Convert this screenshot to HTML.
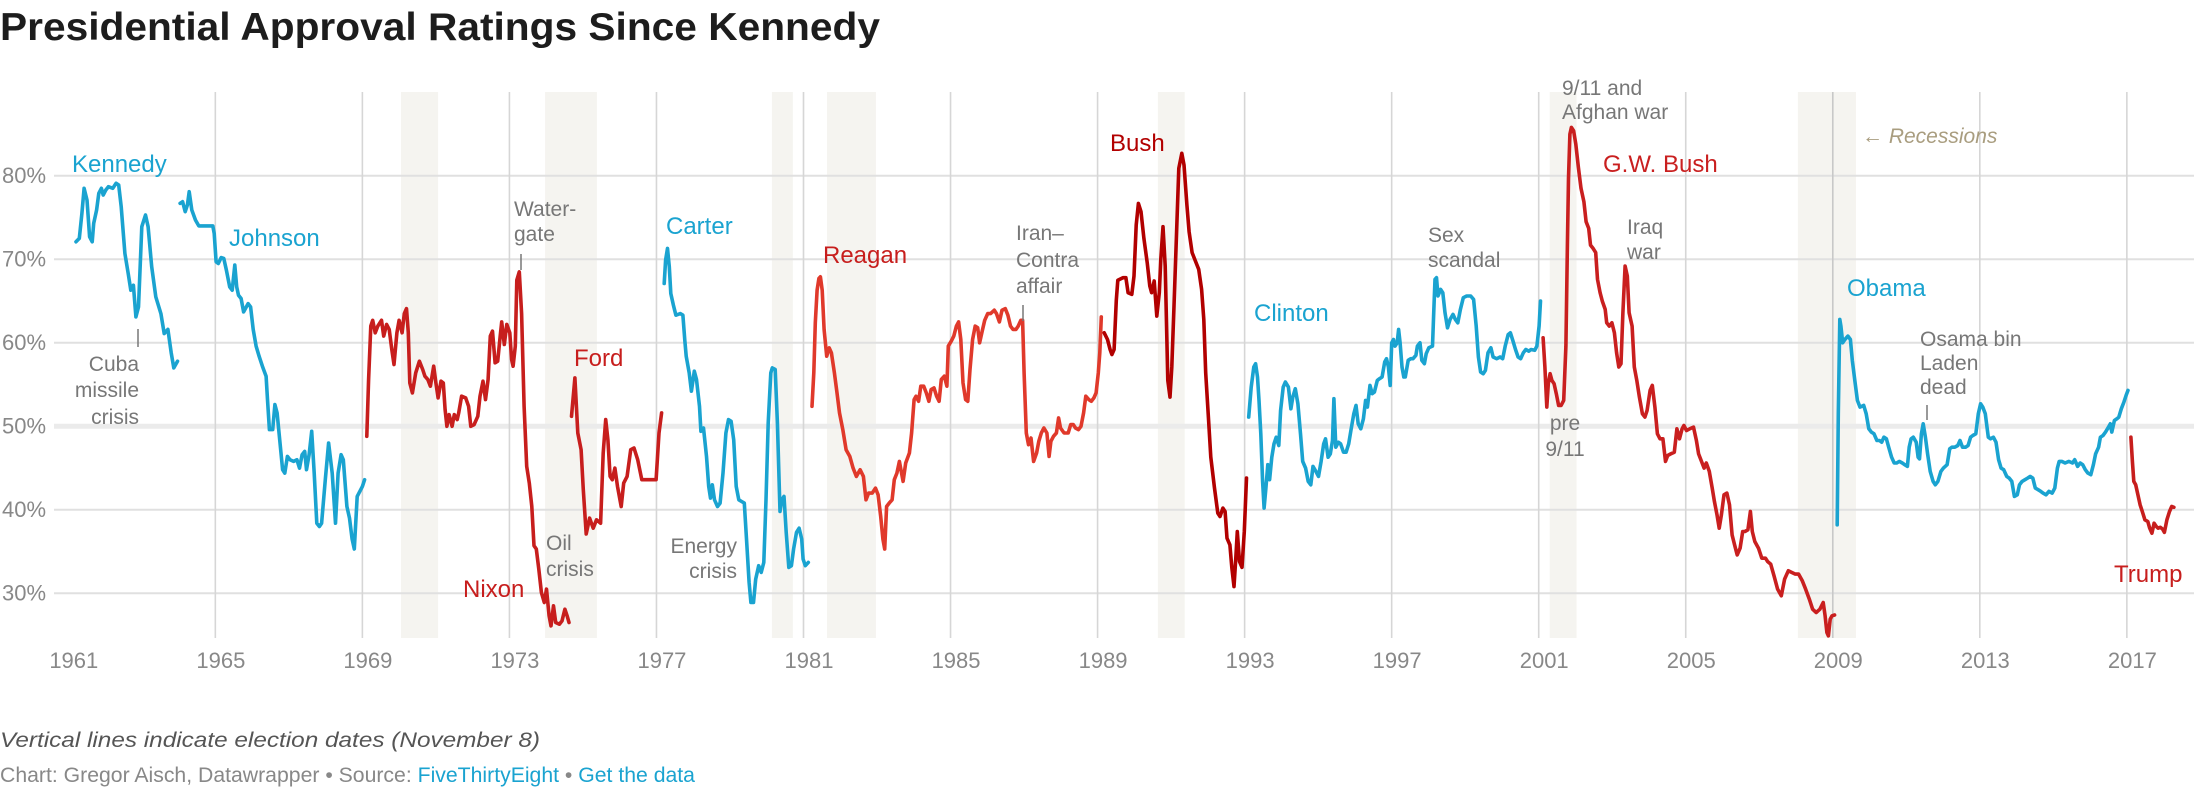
<!DOCTYPE html>
<html><head><meta charset="utf-8"><style>
html,body{margin:0;padding:0;background:#fff;width:2200px;height:800px;overflow:hidden;}
svg{display:block;font-family:"Liberation Sans",sans-serif;}
</style></head><body>
<svg id="chart" width="2200" height="800" viewBox="0 0 2200 800" xmlns="http://www.w3.org/2000/svg">
<text x="0" y="40" font-size="39" font-weight="bold" fill="#1d1d1d" textLength="880" lengthAdjust="spacingAndGlyphs">Presidential Approval Ratings Since Kennedy</text>
<g id="bands"></g>
<g id="grid"></g>
<g id="lines"></g>
<g id="labels" font-size="21" fill="#777">
<text x="72" y="172" font-size="24" fill="#1aa3d0">Kennedy</text>
<text x="229" y="246" font-size="24" fill="#1aa3d0">Johnson</text>
<text x="666" y="234" font-size="24" fill="#1aa3d0">Carter</text>
<text x="1254" y="321" font-size="24" fill="#1aa3d0">Clinton</text>
<text x="1847" y="296" font-size="24" fill="#1aa3d0">Obama</text>
<text x="463" y="597" font-size="24" fill="#c71e1d">Nixon</text>
<text x="574" y="366" font-size="24" fill="#c71e1d">Ford</text>
<text x="823" y="263" font-size="24" fill="#c71e1d">Reagan</text>
<text x="1110" y="151" font-size="24" fill="#b20000">Bush</text>
<text x="1603" y="172" font-size="24" fill="#c91f1f">G.W. Bush</text>
<text x="2114" y="582" font-size="24" fill="#c71e1d">Trump</text>
<text x="514" y="216">Water-<tspan x="514" y="241">gate</tspan></text>
<line x1="521" y1="254" x2="521" y2="270" stroke="#777" stroke-width="1.5"/>
<text text-anchor="end" x="139" y="371">Cuba<tspan x="139" y="397">missile</tspan><tspan x="139" y="424">crisis</tspan></text>
<line x1="138" y1="329" x2="138" y2="347" stroke="#777" stroke-width="1.5"/>
<text x="546" y="550">Oil<tspan x="546" y="576">crisis</tspan></text>
<text text-anchor="end" x="737" y="553">Energy<tspan x="737" y="578">crisis</tspan></text>
<text x="1016" y="240">Iran–<tspan x="1016" y="267">Contra</tspan><tspan x="1016" y="293">affair</tspan></text>
<line x1="1023" y1="305" x2="1023" y2="321" stroke="#777" stroke-width="1.5"/>
<text x="1428" y="242">Sex<tspan x="1428" y="267">scandal</tspan></text>
<text text-anchor="middle" x="1565" y="430">pre<tspan x="1565" y="456">9/11</tspan></text>
<text x="1562" y="95">9/11 and<tspan x="1562" y="119">Afghan war</tspan></text>
<text x="1627" y="234">Iraq<tspan x="1627" y="259">war</tspan></text>
<text x="1920" y="346">Osama bin<tspan x="1920" y="370">Laden</tspan><tspan x="1920" y="394">dead</tspan></text>
<line x1="1927" y1="405" x2="1927" y2="420" stroke="#777" stroke-width="1.5"/>
<text x="1862" y="143" font-style="italic" fill="#a99d7f">← Recessions</text>
</g>
<text x="0" y="747" font-size="21" font-style="italic" fill="#555" textLength="540" lengthAdjust="spacingAndGlyphs">Vertical lines indicate election dates (November 8)</text>
<text x="0" y="782" font-size="21" fill="#888" textLength="695" lengthAdjust="spacingAndGlyphs">Chart: Gregor Aisch, Datawrapper • Source: <tspan fill="#1aa3d0">FiveThirtyEight</tspan> • <tspan fill="#1aa3d0">Get the data</tspan></text>
</svg>
<script>
const xTicks=[1961,1965,1969,1973,1977,1981,1985,1989,1993,1997,2001,2005,2009,2013,2017];
const yTicks=[30,40,50,60,70,80];
const recStart=[1970.05,1973.97,1980.14,1981.64,1990.64,2001.30,2008.05];
const recEnd=[1971.06,1975.38,1980.71,1982.97,1991.37,2002.03,2009.63];

const kennedyYears=[1961.21,1961.30,1961.37,1961.43,1961.51,1961.58,1961.65,1961.69,1961.77,1961.83,1961.90,1961.95,1962.02,1962.09,1962.21,1962.30,1962.37,1962.44,1962.54,1962.63,1962.70,1962.77,1962.84,1962.91,1963.00,1963.10,1963.17,1963.27,1963.38,1963.52,1963.61,1963.71,1963.80,1963.87,1963.97];
const kennedyValues=[72.1,72.5,75.5,78.5,77.1,72.7,72.1,74.3,75.9,77.9,78.5,77.7,78.3,78.7,78.5,79.1,78.9,76.3,70.7,68.3,66.3,66.9,63.1,64.3,73.9,75.3,73.9,69.1,65.5,63.5,61.1,61.6,58.8,57.0,57.8];
const johnsonYears=[1964.04,1964.11,1964.18,1964.24,1964.29,1964.36,1964.46,1964.55,1964.69,1964.93,1964.97,1965.02,1965.08,1965.16,1965.23,1965.30,1965.39,1965.46,1965.53,1965.58,1965.63,1965.70,1965.77,1965.89,1965.96,1966.03,1966.11,1966.19,1966.28,1966.38,1966.42,1966.47,1966.56,1966.62,1966.68,1966.75,1966.83,1966.89,1966.96,1967.03,1967.13,1967.22,1967.29,1967.36,1967.43,1967.48,1967.55,1967.62,1967.69,1967.76,1967.83,1967.89,1967.99,1968.08,1968.18,1968.27,1968.34,1968.42,1968.48,1968.58,1968.65,1968.72,1968.78,1968.86,1968.93,1969.00,1969.06];
const johnsonValues=[76.7,76.9,75.7,76.5,78.1,75.9,74.7,74.0,74.0,74.0,73.1,69.7,69.5,70.2,70.1,68.7,66.7,66.3,69.3,66.7,65.7,65.3,63.7,64.7,64.3,61.6,59.6,58.4,57.2,56.0,53.2,49.6,49.6,52.6,51.6,48.4,44.8,44.4,46.4,46.0,45.8,46.0,45.0,46.6,47.0,44.8,46.6,49.4,44.4,38.4,38.0,38.4,43.6,48.0,44.4,38.4,44.4,46.6,46.0,40.4,39.0,36.5,35.3,41.6,42.2,42.8,43.6];
const nixonYears=[1969.12,1969.17,1969.23,1969.28,1969.35,1969.42,1969.52,1969.58,1969.66,1969.73,1969.80,1969.86,1969.94,1970.00,1970.08,1970.14,1970.20,1970.25,1970.29,1970.36,1970.45,1970.55,1970.64,1970.70,1970.78,1970.85,1970.94,1971.00,1971.06,1971.14,1971.20,1971.25,1971.30,1971.36,1971.44,1971.50,1971.58,1971.62,1971.70,1971.81,1971.89,1971.95,1972.04,1972.14,1972.20,1972.28,1972.35,1972.42,1972.48,1972.54,1972.61,1972.68,1972.75,1972.79,1972.86,1972.93,1973.01,1973.06,1973.10,1973.16,1973.20,1973.27,1973.33,1973.40,1973.47,1973.54,1973.61,1973.67,1973.73,1973.80,1973.87,1973.95,1974.01,1974.08,1974.13,1974.20,1974.26,1974.36,1974.43,1974.51,1974.57,1974.62];
const nixonValues=[48.8,55.6,62.0,62.7,61.2,62.0,62.7,60.8,62.2,61.6,59.2,57.4,61.2,62.7,61.2,63.5,64.1,61.2,55.2,54.0,56.4,57.8,56.8,56.0,55.6,54.8,57.2,55.2,53.4,55.4,55.2,52.0,50.0,51.4,50.0,51.4,50.8,51.6,53.6,53.4,52.4,50.0,50.2,51.2,53.6,55.4,53.2,55.6,60.8,61.4,57.6,57.8,60.8,62.5,59.8,62.2,61.2,58.0,57.2,59.6,67.5,68.5,63.5,52.4,45.2,43.2,40.4,35.7,35.3,32.9,30.1,28.9,30.5,27.3,26.1,28.5,26.5,26.3,26.7,28.1,27.3,26.5];
const fordYears=[1974.69,1974.78,1974.86,1974.95,1975.01,1975.09,1975.18,1975.28,1975.37,1975.48,1975.55,1975.62,1975.68,1975.74,1975.80,1975.87,1975.94,1976.04,1976.11,1976.20,1976.30,1976.39,1976.49,1976.60,1976.78,1976.99,1977.07,1977.14];
const fordValues=[51.2,55.8,49.2,47.2,42.4,37.1,39.0,37.8,38.8,38.4,46.8,50.8,48.4,44.0,43.6,45.0,42.8,40.4,43.2,44.0,47.2,47.4,46.0,43.6,43.6,43.6,49.2,51.6];
const carterYears=[1977.21,1977.25,1977.30,1977.35,1977.39,1977.46,1977.53,1977.65,1977.72,1977.77,1977.81,1977.89,1977.95,1978.03,1978.09,1978.17,1978.21,1978.28,1978.36,1978.42,1978.47,1978.52,1978.58,1978.66,1978.73,1978.81,1978.89,1978.96,1979.03,1979.10,1979.17,1979.24,1979.31,1979.39,1979.45,1979.52,1979.57,1979.64,1979.70,1979.78,1979.85,1979.92,1979.98,1980.04,1980.11,1980.15,1980.23,1980.29,1980.36,1980.41,1980.47,1980.53,1980.60,1980.67,1980.73,1980.81,1980.88,1980.95,1980.99,1981.05,1981.13];
const carterValues=[67.1,69.9,71.3,69.1,65.9,64.5,63.3,63.5,63.3,60.3,58.4,56.4,54.2,56.6,55.6,52.4,49.4,49.8,46.4,42.8,41.4,43.0,41.2,40.4,40.8,44.4,49.2,50.8,50.6,48.4,42.8,41.2,41.0,40.8,36.5,31.3,28.9,28.9,31.7,33.3,32.5,33.7,41.2,50.4,56.4,57.0,56.8,50.4,39.8,41.2,41.6,37.3,33.1,33.3,35.3,37.3,37.8,36.5,34.1,33.3,33.7];
const reaganYears=[1981.23,1981.28,1981.32,1981.37,1981.42,1981.46,1981.51,1981.56,1981.63,1981.70,1981.76,1981.84,1981.91,1981.98,1982.07,1982.16,1982.26,1982.35,1982.44,1982.54,1982.63,1982.70,1982.77,1982.87,1982.96,1983.03,1983.10,1983.16,1983.21,1983.26,1983.33,1983.41,1983.47,1983.54,1983.61,1983.71,1983.78,1983.88,1983.94,1984.01,1984.06,1984.13,1984.19,1984.27,1984.34,1984.41,1984.47,1984.55,1984.62,1984.69,1984.75,1984.83,1984.90,1984.94,1985.02,1985.09,1985.16,1985.22,1985.28,1985.34,1985.41,1985.47,1985.53,1985.60,1985.67,1985.74,1985.79,1985.86,1985.93,1986.01,1986.09,1986.19,1986.25,1986.33,1986.40,1986.49,1986.56,1986.63,1986.70,1986.78,1986.84,1986.91,1986.96,1987.00,1987.06,1987.12,1987.19,1987.26,1987.34,1987.40,1987.47,1987.54,1987.62,1987.68,1987.73,1987.80,1987.88,1987.94,1987.99,1988.09,1988.20,1988.27,1988.34,1988.40,1988.48,1988.55,1988.62,1988.68,1988.76,1988.83,1988.90,1988.96,1989.02,1989.06,1989.10];
const reaganValues=[52.4,56.4,62.4,66.3,67.7,67.9,66.3,61.6,58.4,59.4,58.8,56.4,54.0,51.6,49.6,47.2,46.4,45.0,44.0,44.8,44.0,41.2,42.0,42.0,42.6,41.8,39.2,36.5,35.3,40.4,40.8,41.2,43.6,44.4,45.8,43.4,45.6,46.8,49.2,53.2,53.6,53.0,54.8,54.8,54.0,53.0,54.4,54.6,53.6,53.0,55.6,56.0,54.8,59.6,60.2,60.8,62.0,62.5,60.4,55.2,53.2,53.0,56.8,60.4,62.0,61.8,60.0,61.4,62.7,63.5,63.5,63.9,63.5,62.5,63.9,64.1,63.3,62.0,61.6,61.6,62.0,62.7,62.7,56.4,49.2,47.8,48.6,45.8,46.8,48.2,49.2,49.8,49.2,46.4,48.2,48.8,49.2,51.0,49.8,49.2,49.2,50.2,50.2,49.8,49.6,50.0,51.6,53.6,53.2,53.0,53.4,54.0,56.4,58.8,63.1];
const bushYears=[1989.18,1989.27,1989.34,1989.39,1989.45,1989.51,1989.55,1989.69,1989.77,1989.83,1989.93,1989.99,1990.05,1990.11,1990.18,1990.26,1990.35,1990.42,1990.47,1990.54,1990.61,1990.68,1990.72,1990.78,1990.84,1990.91,1990.97,1991.02,1991.08,1991.15,1991.21,1991.29,1991.35,1991.43,1991.49,1991.57,1991.66,1991.75,1991.83,1991.89,1991.94,1992.02,1992.08,1992.18,1992.27,1992.33,1992.41,1992.47,1992.52,1992.60,1992.65,1992.71,1992.76,1992.80,1992.86,1992.93,1992.99,1993.05];
const bushValues=[61.2,60.4,59.2,58.6,59.2,65.1,67.5,67.8,67.8,66.0,65.8,68.0,74.1,76.7,75.7,72.5,69.6,66.8,66.0,67.4,63.2,66.0,70.0,73.9,69.2,55.5,53.5,57.1,64.4,73.3,80.9,82.7,81.3,76.5,73.3,70.8,69.8,68.8,66.4,62.8,56.4,50.7,46.3,42.6,39.6,39.2,40.2,39.8,36.6,35.8,33.1,30.8,34.2,37.4,33.8,33.1,37.4,43.8];
const clintonYears=[1993.11,1993.18,1993.25,1993.30,1993.35,1993.39,1993.44,1993.49,1993.53,1993.58,1993.63,1993.68,1993.74,1993.80,1993.86,1993.93,1993.98,1994.05,1994.11,1994.19,1994.26,1994.31,1994.38,1994.45,1994.52,1994.58,1994.66,1994.73,1994.80,1994.86,1994.94,1995.01,1995.08,1995.15,1995.20,1995.27,1995.33,1995.39,1995.43,1995.48,1995.55,1995.61,1995.69,1995.76,1995.83,1995.89,1995.97,1996.03,1996.09,1996.16,1996.23,1996.29,1996.34,1996.41,1996.47,1996.53,1996.61,1996.67,1996.74,1996.81,1996.86,1996.91,1996.96,1997.00,1997.05,1997.09,1997.15,1997.19,1997.23,1997.28,1997.33,1997.37,1997.45,1997.52,1997.58,1997.66,1997.70,1997.77,1997.82,1997.89,1997.94,1998.01,1998.11,1998.14,1998.18,1998.22,1998.26,1998.33,1998.39,1998.45,1998.52,1998.59,1998.67,1998.73,1998.80,1998.87,1998.95,1999.04,1999.15,1999.23,1999.30,1999.36,1999.42,1999.49,1999.55,1999.62,1999.70,1999.76,1999.86,1999.95,2000.02,2000.09,2000.17,2000.23,2000.30,2000.37,2000.44,2000.51,2000.58,2000.65,2000.73,2000.79,2000.89,2000.95,2001.01,2001.05];
const clintonValues=[51.1,54.7,57.1,57.5,55.9,53.1,49.1,43.4,40.2,42.6,45.4,43.6,46.3,47.9,48.7,47.7,51.9,54.7,55.3,54.7,52.1,53.5,54.5,52.7,49.1,45.8,45.0,43.4,43.0,45.2,44.6,44.0,45.8,47.9,48.5,46.3,46.7,48.3,53.3,47.5,48.1,47.9,46.9,46.9,47.9,49.5,51.5,52.5,50.3,49.7,50.9,53.1,52.3,54.9,53.9,54.1,55.5,55.7,55.9,57.7,58.1,57.1,54.9,60.0,60.4,59.6,60.0,61.6,60.0,57.1,55.9,55.9,57.9,58.1,58.1,58.5,59.6,60.0,57.9,57.5,58.7,59.4,59.6,63.2,67.6,67.8,65.6,66.4,66.0,63.6,61.8,62.8,63.4,62.8,62.4,64.0,65.4,65.6,65.6,65.2,62.0,58.3,56.5,56.3,56.7,58.8,59.4,58.3,58.1,58.3,58.1,59.6,61.0,61.2,60.2,59.2,58.3,58.1,58.8,59.2,59.0,59.2,59.1,59.6,62.0,65.0];
const gwBushYears=[2001.12,2001.17,2001.22,2001.26,2001.31,2001.36,2001.42,2001.48,2001.54,2001.61,2001.68,2001.74,2001.78,2001.81,2001.85,2001.89,2001.95,2002.01,2002.08,2002.15,2002.23,2002.29,2002.36,2002.41,2002.48,2002.55,2002.60,2002.67,2002.73,2002.81,2002.85,2002.92,2002.99,2003.06,2003.12,2003.18,2003.24,2003.29,2003.35,2003.41,2003.46,2003.54,2003.60,2003.67,2003.74,2003.82,2003.89,2003.95,2004.03,2004.09,2004.16,2004.23,2004.30,2004.38,2004.45,2004.51,2004.59,2004.69,2004.76,2004.83,2004.90,2004.95,2005.02,2005.11,2005.21,2005.29,2005.35,2005.43,2005.50,2005.56,2005.64,2005.72,2005.78,2005.85,2005.91,2005.97,2006.04,2006.12,2006.19,2006.26,2006.33,2006.40,2006.48,2006.55,2006.61,2006.69,2006.76,2006.81,2006.88,2006.98,2007.07,2007.17,2007.23,2007.31,2007.40,2007.50,2007.60,2007.69,2007.79,2007.88,2007.98,2008.07,2008.17,2008.26,2008.36,2008.45,2008.55,2008.65,2008.74,2008.79,2008.84,2008.88,2008.93,2008.98,2009.05];
const gwBushValues=[60.6,57.1,52.3,55.1,56.3,55.5,55.1,53.9,52.5,52.5,53.1,59.6,71.7,79.7,85.0,85.8,85.4,83.8,81.0,78.5,76.9,74.5,73.7,71.7,71.3,70.8,67.6,66.0,65.0,64.0,62.4,62.0,62.4,61.2,58.8,57.1,57.5,63.6,69.2,68.0,63.6,62.0,57.1,55.5,53.5,51.5,51.1,51.9,54.3,54.9,52.3,49.1,48.5,48.5,45.8,46.5,46.7,46.9,49.7,48.5,49.7,50.1,49.5,49.7,49.9,48.3,46.7,45.8,45.0,45.6,44.6,42.6,41.0,39.4,37.8,39.4,41.8,42.0,40.6,37.0,35.8,34.6,35.4,37.4,37.4,37.6,39.8,37.4,36.2,35.4,34.2,34.2,33.8,33.5,32.1,30.5,29.7,31.7,32.7,32.5,32.3,32.3,31.5,30.5,29.3,28.1,27.7,28.1,28.9,27.3,25.3,24.9,26.9,27.3,27.4];
const obamaYears=[2009.12,2009.15,2009.19,2009.22,2009.27,2009.33,2009.41,2009.48,2009.53,2009.60,2009.67,2009.74,2009.84,2009.91,2009.98,2010.05,2010.12,2010.20,2010.27,2010.33,2010.39,2010.46,2010.52,2010.60,2010.67,2010.74,2010.81,2010.89,2010.96,2011.03,2011.08,2011.13,2011.19,2011.27,2011.32,2011.36,2011.41,2011.46,2011.52,2011.58,2011.65,2011.73,2011.79,2011.86,2011.94,2012.01,2012.11,2012.18,2012.24,2012.32,2012.40,2012.46,2012.53,2012.61,2012.68,2012.75,2012.81,2012.89,2012.96,2013.02,2013.08,2013.15,2013.23,2013.29,2013.37,2013.44,2013.51,2013.58,2013.65,2013.73,2013.80,2013.87,2013.94,2014.02,2014.08,2014.15,2014.23,2014.30,2014.37,2014.44,2014.51,2014.59,2014.66,2014.72,2014.80,2014.88,2014.97,2015.04,2015.11,2015.16,2015.23,2015.32,2015.42,2015.52,2015.58,2015.66,2015.73,2015.80,2015.87,2015.94,2016.02,2016.09,2016.15,2016.23,2016.28,2016.35,2016.42,2016.50,2016.55,2016.59,2016.66,2016.73,2016.78,2016.85,2016.92,2016.98,2017.03];
const obamaValues=[38.2,51.5,62.8,62.0,60.0,60.4,60.8,60.4,57.9,55.5,53.1,52.3,52.5,51.5,49.7,49.3,49.1,48.3,48.3,48.1,48.7,48.5,47.5,46.3,45.6,45.6,45.8,45.6,45.4,45.2,47.5,48.5,48.7,48.1,46.3,46.1,49.1,50.3,48.7,46.7,44.6,43.4,43.0,43.4,44.6,45.0,45.4,47.3,47.5,47.5,47.7,48.3,47.5,47.5,47.7,48.7,48.9,49.1,51.5,52.7,52.3,51.5,48.7,48.5,48.7,48.1,46.0,45.0,44.8,44.0,43.8,43.4,41.6,41.8,43.0,43.4,43.6,43.8,44.0,43.8,42.6,42.4,42.2,42.0,41.8,42.2,42.0,42.6,45.0,45.8,45.8,45.6,45.8,45.6,46.0,45.2,45.6,45.4,44.8,44.4,44.2,45.4,46.7,47.5,48.7,48.9,49.3,49.9,50.3,49.3,50.7,50.9,51.1,52.1,52.9,53.7,54.3];
const trumpYears=[2017.11,2017.15,2017.19,2017.24,2017.30,2017.36,2017.42,2017.49,2017.57,2017.62,2017.68,2017.74,2017.80,2017.85,2017.91,2017.97,2018.02,2018.09,2018.16,2018.22,2018.28];
const trumpValues=[48.7,45.8,43.4,43.0,41.8,40.6,39.8,38.8,38.6,37.8,37.2,38.4,38.0,37.8,37.9,37.7,37.3,38.8,39.8,40.4,40.3];

const NS='http://www.w3.org/2000/svg';
function xs(y){return 68.3+(y-1961)*36.76;}
function ys(v){return 426.3-(v-50)*8.35;}
const PT=92,PB=638,PL=54,PR=2194;
function mk(tag,attrs,parent){const e=document.createElementNS(NS,tag);for(const k in attrs)e.setAttribute(k,attrs[k]);parent.appendChild(e);return e;}

const bands=document.getElementById('bands');
for(let i=0;i<recStart.length;i++){
  const r=mk('rect',{x:xs(recStart[i]),y:PT,width:xs(recEnd[i])-xs(recStart[i]),height:PB-PT,fill:'#f5f4f0'},bands);
  
  
}
const grid=document.getElementById('grid');
yTicks.forEach(t=>{
  const l=mk('line',{x1:PL,x2:PR,y1:ys(t),y2:ys(t),stroke:t===50?'#ebebeb':'#e0e0e0','stroke-width':t===50?5:2},grid);
  
  
  const tx=mk('text',{x:2,y:ys(t)+7,'font-size':22,fill:'#888'},grid);
  tx.textContent=t+'%';
  
  
});
xTicks.forEach((t,i)=>{
  if(i>0){
    const l=mk('line',{x1:xs(t),x2:xs(t),y1:PT,y2:PB,stroke:t===2009?'#c8c8c8':'#d6d6d6','stroke-width':1.6},grid);
    
    
  }
  const tx=mk('text',{x:xs(t)+5.5,y:668,'font-size':22,fill:'#888','text-anchor':'middle'},grid);
  tx.textContent=t;
  
  
});
const series=[
 ['kennedy',kennedyYears,kennedyValues,'#1aa3d0'],
 ['johnson',johnsonYears,johnsonValues,'#1aa3d0'],
 ['nixon',nixonYears,nixonValues,'#c71e1d'],
 ['ford',fordYears,fordValues,'#c71e1d'],
 ['carter',carterYears,carterValues,'#1aa3d0'],
 ['reagan',reaganYears,reaganValues,'#e0392b'],
 ['bush',bushYears,bushValues,'#b20000'],
 ['clinton',clintonYears,clintonValues,'#1aa3d0'],
 ['gw-bush',gwBushYears,gwBushValues,'#c91f1f'],
 ['obama',obamaYears,obamaValues,'#1aa3d0'],
 ['trump',trumpYears,trumpValues,'#c71e1d']
];
const lines=document.getElementById('lines');
series.forEach(s=>{
  const n=Math.min(s[1].length,s[2].length);
  let d='';
  for(let i=0;i<n;i++)d+=(i?'L':'M')+xs(s[1][i]).toFixed(1)+','+ys(s[2][i]).toFixed(1);
  const p=mk('path',{d:d,fill:'none',stroke:s[3],'stroke-width':3.6,'stroke-linejoin':'round','stroke-linecap':'round'},lines);
  
  
});
</script>
</body></html>
